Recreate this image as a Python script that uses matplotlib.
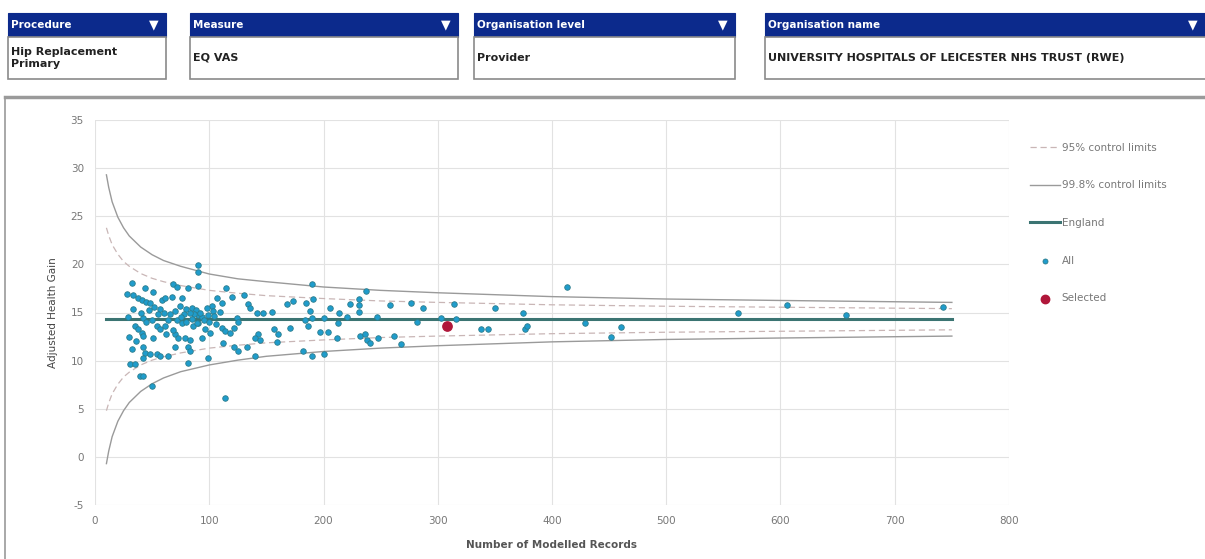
import matplotlib
matplotlib.use('Agg')
import matplotlib.pyplot as plt
from matplotlib.patches import Rectangle

plt.rcParams['axes.unicode_minus'] = False

# --- Filter boxes above the chart ---
filter_titles = ['Procedure', 'Measure', 'Organisation level', 'Organisation name']
filter_values = ['Hip Replacement\nPrimary', 'EQ VAS', 'Provider',
                 'UNIVERSITY HOSPITALS OF LEICESTER NHS TRUST (RWE)']

# --- Funnel control limits ---
limit_n = [10, 12, 15, 20, 25, 30, 40, 50, 60, 75, 100, 125, 150, 200, 250, 300, 400, 500, 600, 750]
upper_998 = [29.3, 28.0, 26.5, 24.9, 23.8, 22.95, 21.8, 21.0, 20.4, 19.8, 19.0, 18.5, 18.2,
             17.65, 17.3, 17.05, 16.65, 16.4, 16.25, 16.05]
lower_998 = [-0.7, 0.6, 2.1, 3.7, 4.8, 5.65, 6.8, 7.6, 8.2, 8.85, 9.55, 10.05, 10.45,
             10.95, 11.3, 11.55, 11.95, 12.2, 12.35, 12.55]
upper_95 = [23.8, 23.0, 22.05, 21.05, 20.3, 19.8, 19.05, 18.55, 18.2, 17.8, 17.3, 17.0, 16.75,
            16.45, 16.2, 16.05, 15.8, 15.65, 15.55, 15.4]
lower_95 = [4.8, 5.6, 6.55, 7.55, 8.3, 8.8, 9.55, 10.05, 10.4, 10.8, 11.3, 11.6, 11.85,
            12.15, 12.4, 12.55, 12.8, 12.95, 13.05, 13.2]
england_n = [10, 750]
england_value = 14.3

# --- All providers: (modelled records, adjusted health gain) ---
all_n = [
    32, 44, 51, 33, 38, 41, 45, 48, 59, 61, 67, 68, 72, 76, 81, 74, 33, 57, 60, 70,
    80, 85, 42, 45, 50, 54, 57, 61, 72, 76, 80, 86, 90, 35, 41, 42, 51, 70, 73, 79,
    83, 70, 81, 83, 42, 44, 32, 48, 54, 57, 64, 31, 35, 42, 39, 42, 50, 81,
    90, 90, 90, 115, 107, 111, 120, 130, 134, 136, 102, 103, 109, 142, 147, 155, 90, 94,
    99, 124, 125, 111, 114, 96, 101, 94, 118, 122, 157, 160, 143, 140, 144, 159, 112, 122,
    125, 133, 140, 99, 114,
    190, 237, 168, 173, 185, 191, 188, 206, 223, 231, 231, 231, 214, 213, 212, 221, 200, 184,
    186, 190, 171, 197, 204, 232, 236, 238, 248, 241, 182, 190, 200, 247,
    258, 277, 287, 314, 350, 375, 376, 378, 338, 344, 303, 316, 282, 262, 268, 413,
    606, 742, 563, 657, 429, 460, 452,
    88, 92, 95, 98, 100, 104, 106, 89, 87, 85, 83, 78, 75, 66, 64, 68, 62, 55, 52, 47,
    40, 38, 36, 30, 29, 28,
]
all_gain = [
    18.1, 17.5, 17.1, 16.8, 16.5, 16.3, 16.1, 16.0, 16.3, 16.5, 16.6, 18.0, 17.6, 16.5, 17.5, 15.7, 15.4, 15.4, 15.0, 15.2,
    15.4, 15.5, 14.4, 14.0, 14.2, 13.6, 13.3, 13.6, 14.2, 13.9, 14.0, 13.6, 13.9, 13.6, 12.9, 12.6, 12.4, 12.8, 12.3, 12.4,
    12.1, 11.4, 11.4, 11.0, 11.4, 10.8, 11.2, 10.7, 10.7, 10.5, 10.5, 9.7, 9.7, 10.3, 8.4, 8.4, 7.4, 9.8,
    19.9, 19.2, 17.8, 17.5, 16.5, 16.0, 16.6, 16.8, 15.9, 15.5, 15.7, 15.2, 15.1, 15.0, 14.9, 15.1, 14.7, 14.5,
    14.7, 14.4, 14.0, 13.4, 13.1, 13.3, 12.9, 12.3, 12.9, 13.4, 13.3, 12.8, 12.8, 12.3, 12.1, 11.9, 11.8, 11.4,
    11.0, 11.4, 10.5, 10.3, 6.1,
    18.0, 17.2, 15.9, 16.2, 16.0, 16.4, 15.2, 15.5, 15.9, 16.4, 15.8, 15.1, 14.9, 13.9, 12.4, 14.5, 14.4, 14.2,
    13.6, 14.4, 13.4, 13.0, 13.0, 12.6, 12.8, 12.1, 12.3, 11.8, 11.0, 10.5, 10.7, 14.5,
    15.8, 16.0, 15.5, 15.9, 15.5, 15.0, 13.3, 13.6, 13.3, 13.3, 14.4, 14.3, 14.0, 12.6, 11.7, 17.6,
    15.8, 15.6, 14.9, 14.7, 13.9, 13.5, 12.5,
    15.3, 15.0, 14.2, 15.5, 14.0, 14.6, 13.8, 13.9, 14.8, 14.3, 15.0, 14.8, 14.5, 14.8, 14.2, 13.2, 12.8, 14.8, 15.6, 15.3,
    15.0, 13.3, 12.0, 12.5, 14.5, 16.9,
]

selected_n = [308]
selected_gain = [13.6]

x_ticks = [0, 100, 200, 300, 400, 500, 600, 700, 800]
y_ticks = [-5, 0, 5, 10, 15, 20, 25, 30, 35]

W, H = 1205, 559
fig = plt.figure(figsize=(W / 100, H / 100), dpi=100)

# overlay in pixel coordinates for the header boxes and the panel frame
bg = fig.add_axes([0, 0, 1, 1])
bg.set_xlim(0, W)
bg.set_ylim(H, 0)
bg.axis('off')

navy = '#0c2a8c'
box_x = [(8, 166), (190, 458), (474, 735), (765, 1215)]
for (x0, x1), title, value in zip(box_x, filter_titles, filter_values):
    bg.add_patch(Rectangle((x0, 13), x1 - x0, 24, facecolor=navy, edgecolor=navy, lw=0.8))
    bg.add_patch(Rectangle((x0, 37), x1 - x0, 42, facecolor='white', edgecolor='#8a8a8a', lw=1.2))
    bg.text(x0 + 3, 25, title, color='white', fontsize=7.5, fontweight='bold', va='center')
    bg.text(min(x1, W) - 12, 25, '\u25bc', color='white', fontsize=9, va='center', ha='center')
    bg.text(x0 + 3, 58, value, color='#222222', fontsize=8, fontweight='bold', va='center',
            linespacing=1.2)

# chart panel frame
bg.plot([5, W], [97, 97], color='#9a9a9a', lw=2.5)
bg.plot([5, 5], [97, H], color='#9a9a9a', lw=1.2)

# --- main chart ---
ax = fig.add_axes([95 / W, 1 - 505 / H, (1009 - 95) / W, (505 - 120) / H])
ax.set_facecolor('none')

ax.plot(limit_n, upper_95, color='#c9b6b6', lw=0.9, ls=(0, (5, 3)), label='95% control limits')
ax.plot(limit_n, lower_95, color='#c9b6b6', lw=0.9, ls=(0, (5, 3)))
ax.plot(limit_n, upper_998, color='#9a9a9a', lw=1.0, label='99.8% control limits')
ax.plot(limit_n, lower_998, color='#9a9a9a', lw=1.0)
ax.plot(england_n, [england_value] * len(england_n), color='#3b7472', lw=2.2, label='England', zorder=3)
ax.scatter(all_n, all_gain, s=16, facecolor='#1f9ccc', edgecolor='#2d7d8c', lw=0.6,
           label='All', zorder=4)
ax.scatter(selected_n, selected_gain, s=45, color='#b0173a', label='Selected', zorder=5)

ax.set_xlim(0, 800)
ax.set_ylim(-5, 35)
ax.set_xticks(x_ticks)
ax.set_yticks(y_ticks)
ax.grid(True, color='#e2e2e2', lw=0.8)
ax.set_axisbelow(True)
for side in ['top', 'right', 'bottom', 'left']:
    ax.spines[side].set_visible(False)
ax.tick_params(length=0, labelsize=7.5, labelcolor='#777777', pad=8)
ax.set_xlabel('Number of Modelled Records', fontsize=7.5, fontweight='bold', color='#555555', labelpad=10)
ax.set_ylabel('Adjusted Health Gain', fontsize=7.5, color='#444444', labelpad=9)

ax.legend(loc='upper left', bbox_to_anchor=(1.013, 0.965), frameon=False, fontsize=7.5,
          labelcolor='#777777', labelspacing=2.65, handlelength=2.9, handletextpad=0.1,
          markerscale=0.9)

fig.savefig('out.png', dpi=100)
